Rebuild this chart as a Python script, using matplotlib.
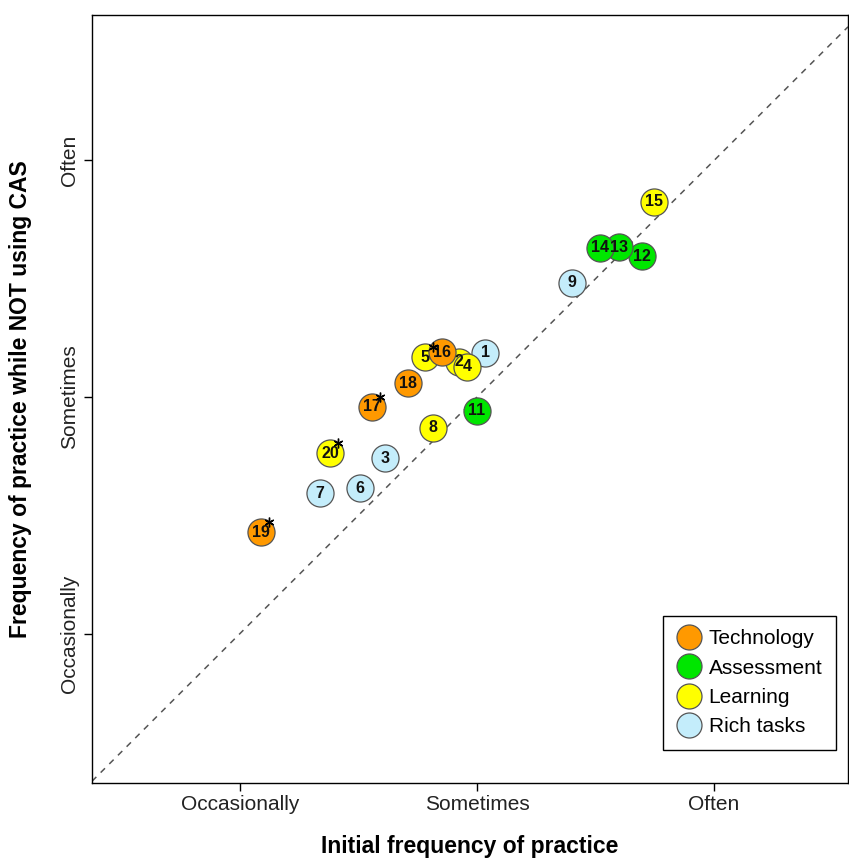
import matplotlib
matplotlib.use("Agg")
import matplotlib.pyplot as plt
from matplotlib.lines import Line2D
import matplotlib.transforms as mtransforms

plt.rcParams['font.family'] = ['Liberation Sans', 'DejaVu Sans']

# ---- data ----
ids = [1, 2, 3, 4, 5, 6, 7, 8, 9, 11, 12, 13, 14, 15, 16, 17, 18, 19, 20]
initial = [2.034, 1.924, 1.612, 1.958, 1.781, 1.506, 1.338, 1.814, 2.401, 2.000,
           2.696, 2.599, 2.519, 2.747, 1.852, 1.557, 1.709, 1.089, 1.380]
not_cas = [2.186, 2.148, 1.742, 2.127, 2.169, 1.615, 1.594, 1.869, 2.482, 1.941,
           2.596, 2.634, 2.630, 2.825, 2.190, 1.958, 2.059, 1.429, 1.763]
group = ['Rich tasks', 'Learning', 'Rich tasks', 'Learning', 'Learning', 'Rich tasks',
         'Rich tasks', 'Learning', 'Rich tasks', 'Assessment', 'Assessment', 'Assessment',
         'Assessment', 'Learning', 'Technology', 'Technology', 'Technology', 'Technology',
         'Learning']
starred = [5, 17, 19, 20]

categories = ['Technology', 'Assessment', 'Learning', 'Rich tasks']
cat_colors = ['#FF9900', '#00E600', '#FFFF00', '#C4EDFB']

tick_values = [1, 2, 3]
tick_labels = ['Occasionally', 'Sometimes', 'Often']

color_of = dict(zip(categories, cat_colors))

fig = plt.figure(figsize=(8.49, 8.58), dpi=100)
ax = fig.add_axes([92/849, 1-783/858, 756/849, 768/858])

x0, x1 = 0.3755, 3.565
y0, y1 = 0.368, 3.615
ax.set_xlim(x0, x1)
ax.set_ylim(y0, y1)

# diagonal y = x
ax.axline((1, 1), (3, 3), color='#555555', lw=1.1, ls=(0, (4, 4)), zorder=1)

# circles
for i in range(len(ids)):
    ax.scatter(initial[i], not_cas[i], s=380, color=color_of[group[i]],
               edgecolors='#555555', linewidths=0.9, zorder=2 + i * 0.01)

# labels
for i in range(len(ids)):
    ax.text(initial[i], not_cas[i], str(ids[i]), ha='center', va='center',
            fontsize=11.5, fontweight='bold', color='#111111', zorder=5)

# stars
for i in range(len(ids)):
    if ids[i] in starred:
        tr = mtransforms.offset_copy(ax.transData, fig=fig, x=6.0, y=7.0, units='points')
        ax.plot(initial[i], not_cas[i], marker=(6, 2, 0), ms=7, color='black',
                mew=1.0, transform=tr, zorder=6)

ax.set_xticks(tick_values)
ax.set_xticklabels(tick_labels, fontsize=15, color='#222222')
ax.set_yticks(tick_values)
ax.set_yticklabels(tick_labels, fontsize=15, color='#222222', rotation=90, va='center')
ax.tick_params(direction='out', length=6, width=1, pad=3)

ax.set_xlabel('Initial frequency of practice', fontsize=16.5, fontweight='bold', va='center')
ax.xaxis.set_label_coords(0.5, -0.0833)
ax.set_ylabel('Frequency of practice while NOT using CAS', fontsize=16.5, fontweight='bold',
              va='center')
ax.yaxis.set_label_coords(-0.095, 0.5)

for sp in ax.spines.values():
    sp.set_linewidth(1.0)
    sp.set_color('black')

handles = [Line2D([], [], marker='o', ls='none', ms=18, markerfacecolor=c,
                  markeredgecolor='#555555', markeredgewidth=0.9) for c in cat_colors]
leg = ax.legend(handles, categories, loc='lower right', bbox_to_anchor=(0.984, 0.043),
                borderaxespad=0, fontsize=15, frameon=True, fancybox=False,
                edgecolor='black', framealpha=1, handletextpad=0.35, labelspacing=0.5,
                borderpad=0.65, handlelength=1.2)
leg.get_frame().set_linewidth(1.0)

fig.savefig('out.png', dpi=100)
